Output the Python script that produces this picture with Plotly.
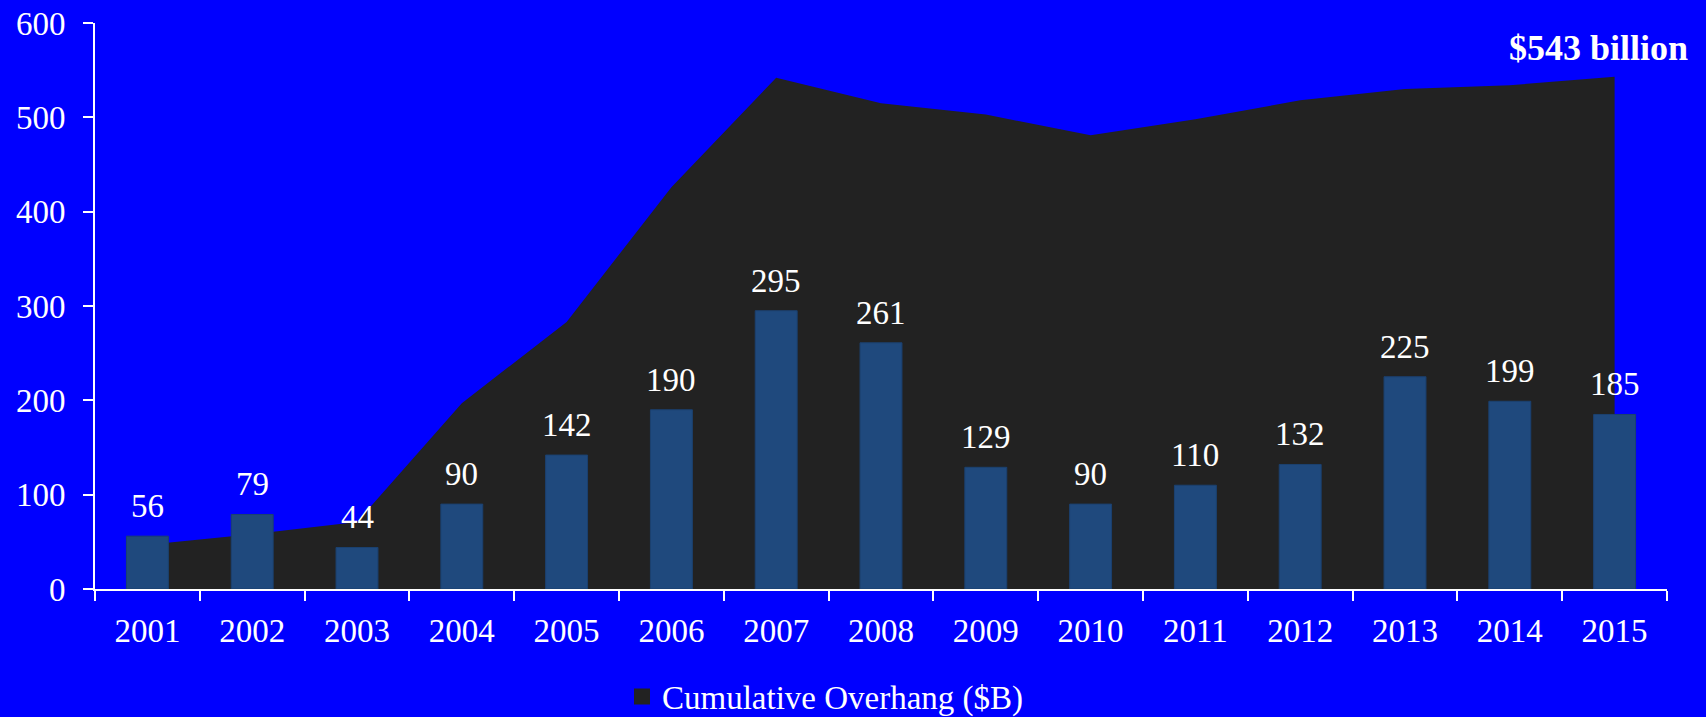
import plotly.graph_objects as go

# Years on the category axis
years = ["2001", "2002", "2003", "2004", "2005", "2006", "2007", "2008",
         "2009", "2010", "2011", "2012", "2013", "2014", "2015"]

# Yearly amounts shown as bars ($B)
yearly = [56, 79, 44, 90, 142, 190, 295, 261, 129, 90, 110, 132, 225, 199, 185]

# Cumulative overhang drawn as the dark area ($B)
cumulative = [47, 58, 71, 197, 283, 426, 542, 515, 503, 481, 498, 518, 530, 534, 543]

y_ticks = [0, 100, 200, 300, 400, 500, 600]

BG = "#0000FF"
AREA = "#222222"
BAR = "#1F497D"
FONT = "Liberation Serif"

fig = go.Figure()

# Dark cumulative area on the base axes
fig.add_trace(go.Scatter(
    x=years, y=cumulative, mode="lines", fill="tozeroy",
    fillcolor=AREA, line=dict(width=0, color=AREA),
    showlegend=False, hoverinfo="skip",
))

# Yearly bars on overlaid axes so they sit above the area
fig.add_trace(go.Bar(
    x=years, y=yearly, width=0.4, xaxis="x2", yaxis="y2",
    marker=dict(color=BAR, line=dict(color="#1B4170", width=1)),
    showlegend=False,
))

# Legend entry for the area series
fig.add_trace(go.Scatter(
    x=[None], y=[None], mode="markers",
    marker=dict(symbol="square", size=18, color=AREA),
    name="Cumulative Overhang ($B)",
))

# Value labels above each bar (category index positions)
annotations = []
for i, v in enumerate(yearly):
    annotations.append(dict(
        x=i, y=v, xref="x", yref="y", text=str(v), showarrow=False,
        xanchor="center", yanchor="bottom", yshift=10,
        font=dict(family=FONT, size=33, color="white"),
    ))

# Final cumulative total
annotations.append(dict(
    x=len(years) - 1, y=cumulative[-1], xref="x", yref="y",
    text=f"<b>${cumulative[-1]} billion</b>", showarrow=False,
    xanchor="right", yanchor="middle", xshift=75, yshift=29,
    font=dict(family=FONT, size=36, color="white"),
))

x_range = [-0.5, len(years) - 0.5]
y_range = [0, 600]

fig.update_layout(
    width=1706, height=717,
    paper_bgcolor=BG, plot_bgcolor=BG,
    margin=dict(l=95, r=39, t=23, b=128, autoexpand=False),
    font=dict(family=FONT, size=33, color="white"),
    annotations=annotations,
    showlegend=True,
    legend=dict(
        orientation="h", x=(622 - 95) / 1572, xanchor="left",
        y=-0.19, yanchor="middle",
        font=dict(family=FONT, size=33, color="white"),
        bgcolor="rgba(0,0,0,0)", itemwidth=30,
    ),
    xaxis=dict(
        type="category", categoryorder="array", categoryarray=years,
        range=x_range, automargin=False,
        tickson="boundaries", ticks="outside", ticklen=10, tickwidth=2,
        tickcolor="white", showline=True, linecolor="white", linewidth=2,
        showgrid=False, zeroline=False, ticklabelstandoff=11,
        tickfont=dict(family=FONT, size=33, color="white"),
    ),
    yaxis=dict(
        range=y_range, tickvals=y_ticks, ticktext=[str(t) for t in y_ticks],
        automargin=False,
        ticks="outside", ticklen=10, tickwidth=2, tickcolor="white",
        showline=True, linecolor="white", linewidth=2,
        showgrid=False, zeroline=False, ticklabelstandoff=11,
        tickfont=dict(family=FONT, size=33, color="white"),
    ),
    xaxis2=dict(
        type="category", categoryorder="array", categoryarray=years,
        range=x_range, overlaying="x", visible=False,
    ),
    yaxis2=dict(range=y_range, overlaying="y", visible=False),
)

fig.write_html("out.html")
